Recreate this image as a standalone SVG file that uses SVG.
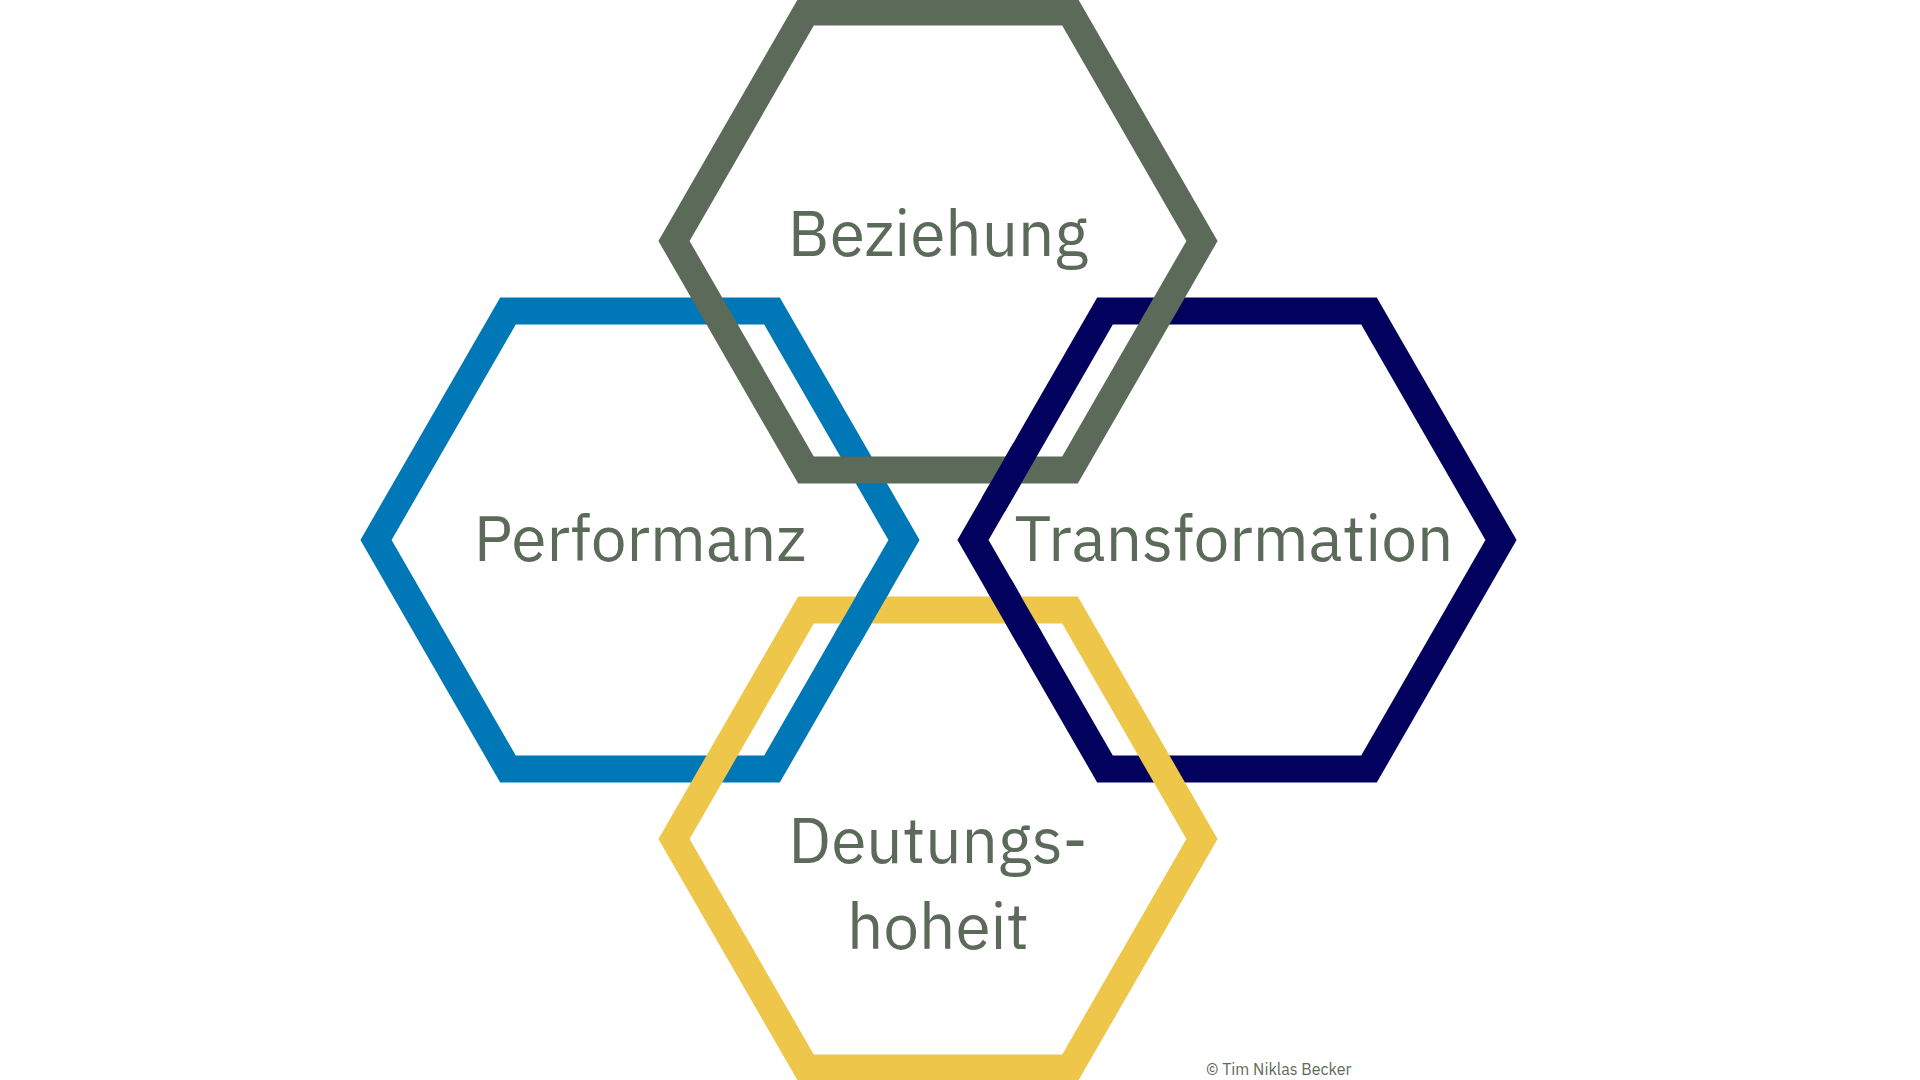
<svg xmlns="http://www.w3.org/2000/svg" width="1920" height="1080" viewBox="0 0 1920 1080">
<style>
.hex{fill:none;stroke-width:27;stroke-linejoin:miter}
.lbl{font-family:"IBM Plex Sans","Open Sans","Liberation Sans",sans-serif;font-size:64px;fill:#5c6a5a;text-anchor:middle}
.cp{font-family:"IBM Plex Sans","Open Sans","Liberation Sans",sans-serif;font-size:16px;fill:#5c6a5a}
</style>
<defs>
<polygon id="h" points="-264,0 -132,-229 132,-229 264,0 132,229 -132,229"/>
</defs>
<rect width="1920" height="1080" fill="#fff"/>
<g id="performanz"><use href="#h" x="640" y="540" class="hex" stroke="#0077b6"/></g>
<g id="transformation"><use href="#h" x="1237" y="540" class="hex" stroke="#02025e"/></g>
<g id="deutungshoheit"><use href="#h" x="938" y="839" class="hex" stroke="#eec64a"/></g>
<g id="beziehung"><use href="#h" x="938" y="241" class="hex" stroke="#5c6a5a"/></g>
<g id="weave" stroke-width="27" stroke-linecap="butt">
<line x1="993.2" y1="505" x2="1024.9" y2="450" stroke="#02025e"/>
<line x1="998.9" y1="585" x2="1030.6" y2="640" stroke="#02025e"/>
<line x1="878.1" y1="585" x2="846.4" y2="640" stroke="#0077b6"/>
</g>
<g id="labels">
<text class="lbl" x="938" y="256">Beziehung</text>
<text class="lbl" x="640" y="561">Performanz</text>
<text class="lbl" x="1234" y="561">Transformation</text>
<text class="lbl" x="938" y="863">Deutungs-</text>
<text class="lbl" x="938" y="949">hoheit</text>
<text class="cp" x="1206" y="1075">© Tim Niklas Becker</text>
</g>
</svg>
